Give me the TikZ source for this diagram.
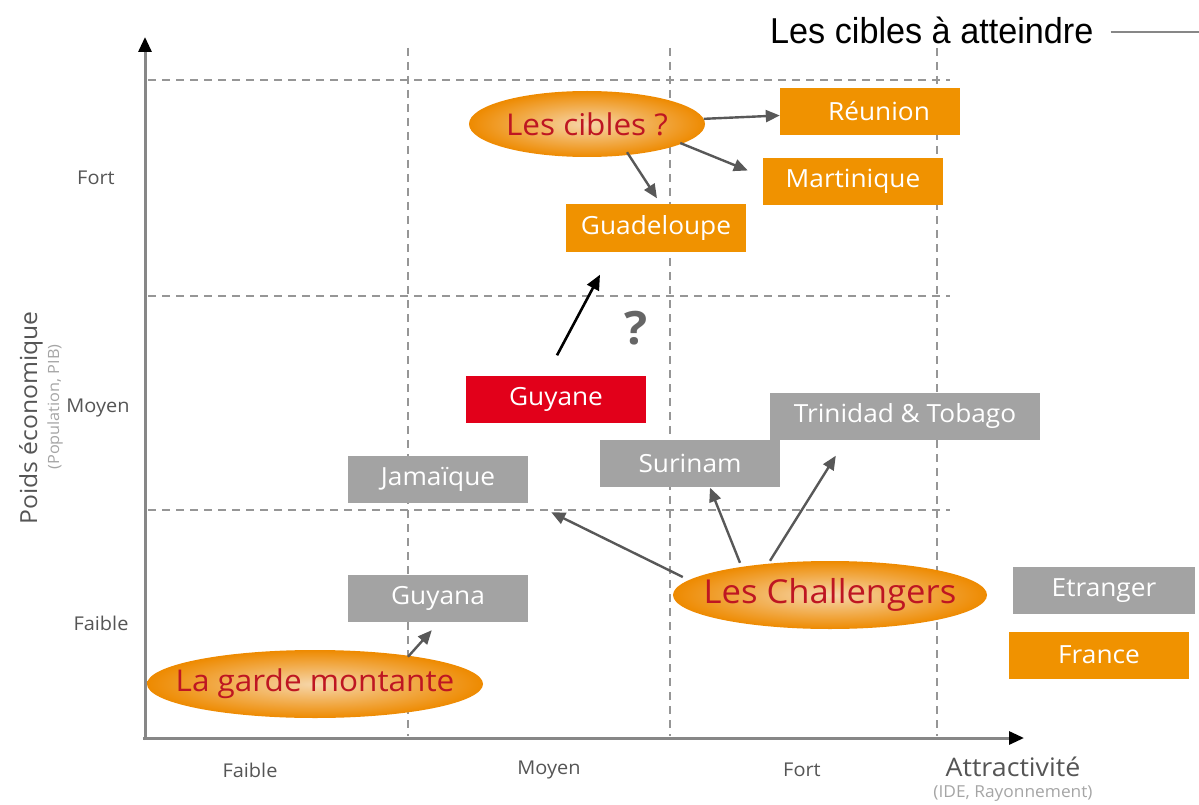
\documentclass[tikz,border=0pt]{standalone}
\usepackage{fontspec}
\setmainfont[FakeStretch=1.05]{Open Sans}
\newfontfamily\titlefont[FakeStretch=0.95]{Liberation Sans}
\usetikzlibrary{arrows.meta,calc,shapes.geometric}
\definecolor{boxorange}{RGB}{240,146,0}
\definecolor{boxgray}{RGB}{163,163,163}
\definecolor{boxred}{RGB}{226,0,26}
\definecolor{elltext}{RGB}{190,22,34}
\definecolor{ellout}{RGB}{238,138,0}
\definecolor{ellin}{RGB}{246,214,170}
\definecolor{arrgray}{RGB}{88,88,88}
\definecolor{labgray}{RGB}{85,85,85}
\definecolor{subgray}{RGB}{165,165,165}
\definecolor{axisgray}{RGB}{135,135,135}
\definecolor{gridgray}{RGB}{150,150,150}
\newcommand{\ztext}[1]{\makebox[0pt][c]{#1}}
\begin{document}
\begin{tikzpicture}[x=1pt,y=-1pt,
  box/.style={rectangle, minimum width=180pt, minimum height=47pt, inner sep=0pt, text=white, font=\fontsize{25}{25}\selectfont},
  obox/.style={box, fill=boxorange},
  gbox/.style={box, fill=boxgray},
  rbox/.style={box, fill=boxred},
  grp/.style={ellipse, inner sep=0pt, shading=radial, inner color=ellin, outer color=ellout, text=elltext, font=\fontsize{30}{30}\selectfont},
  grid line/.style={draw=gridgray, line width=1.4pt, dash pattern=on 8pt off 6pt},
  axisline/.style={draw=axisgray, line width=3pt, -{Triangle[length=15pt,width=13pt,fill=black,color=black]}},
  conn/.style={draw=arrgray, line width=2.4pt, -{Triangle[length=14pt,width=12pt]}},
  ylab/.style={text=labgray, font=\fontsize{19}{19}\selectfont},
]
\useasboundingbox (0,0) rectangle (1199,805);

% grid
\draw[grid line] (148,80) -- (950,80);
\draw[grid line] (148,296) -- (950,296);
\draw[grid line] (148,510) -- (950,510);
\draw[grid line] (408,48) -- (408,736);
\draw[grid line] (670,48) -- (670,736);
\draw[grid line] (937,48) -- (937,736);

% axes
\coordinate (O) at (145,738);
\coordinate (ytop) at (145,37);
\coordinate (xend) at (1024,738);
\draw[axisline] ($(O)+(0,2)$) -- (ytop);
\draw[axisline] ($(O)+(-2,0)$) -- (xend);

% axis labels
\node[ylab] (yfort) at (96,178) {Fort};
\node[ylab] (ymoyen) at (98,408) {Moyen};
\node[ylab] (yfaible) at (101,623) {Faible};
\node[ylab] (xfaible) at (250,770) {Faible};
\node[ylab] (xmoyen) at (549,770) {Moyen};
\node[ylab] (xfort) at (802,770) {Fort};
\node[text=labgray, font=\fontsize{23.5}{23.5}\selectfont, rotate=90] (ytitle) at (31,418) {Poids économique};
\node[text=subgray, font=\fontsize{15.5}{15.5}\selectfont, rotate=90] (ysub) at (55,407) {(Population, PIB)};
\node[text=labgray, font=\fontsize{25.5}{25.5}\selectfont] (xtitle) at (1013,767) {Attractivité};
\node[text=subgray, font=\fontsize{16.5}{16.5}\selectfont] (xsub) at (1013,794) {(IDE, Rayonnement)};

% title
\node[text=black, font=\titlefont\fontsize{36}{36}\selectfont, anchor=west, inner sep=0pt] (title) at (770,30) {Les cibles à atteindre};
\coordinate (tline) at (1199,32);
\draw[draw=axisgray, line width=1.5pt] ($(title.east)+(17,2)$) -- (tline);

% boxes
\node[obox] (reunion) at (870,111.5) {\hspace{18pt}Réunion};
\node[obox] (martinique) at (853,181.5) {Martinique};
\node[obox] (guadeloupe) at (656,228) {Guadeloupe};
\node[rbox] (guyane) at (556,399) {Guyane};
\node[gbox, minimum width=270pt] (trinidad) at (905,416) {Trinidad \& Tobago};
\node[gbox] (surinam) at (690,463) {Surinam};
\node[gbox] (jamaique) at (438,479.5) {Jamaïque};
\node[gbox] (guyana) at (438,598.5) {Guyana};
\node[gbox, minimum width=182pt] (etranger) at (1104,590.5) {Etranger};
\node[obox] (france) at (1099,655) {France};

% groups
\node[grp, minimum width=236pt, minimum height=66pt] (cibles) at (587,124) {\ztext{Les cibles ?}};
\node[grp, minimum width=336pt, minimum height=68pt] (garde) at (315,684) {\ztext{La garde montante}};
\node[grp, minimum width=314pt, minimum height=68pt, font=\fontsize{33}{33}\selectfont] (chal) at (830,595) {\ztext{Les Challengers}};

% question mark
\node[text=labgray!90, font=\bfseries\fontsize{46}{46}\selectfont] (qm) at (636,328) {?};

% connectors
\draw[conn] (cibles) -- (reunion);
\draw[conn] ($(cibles.east)+(-25,19)$) -- ($(martinique.west)+(-15,-11)$);
\draw[conn] ($(cibles.south)+(40,-5)$) -- ($(guadeloupe.north)+(1,-6)$);
\draw[draw=black, line width=2.6pt, -{Triangle[length=15pt,width=13pt]}] ($(guyane.north)+(1,-20)$) -- ($(guadeloupe.south)+(-56,23)$);
\draw[conn] ($(chal.west)+(10,-18)$) -- ($(jamaique.south east)+(23,9)$);
\draw[conn] ($(chal.north)+(-90,2)$) -- ($(surinam.south)+(20,1)$);
\draw[conn] ($(chal.north)+(-60,0)$) -- ($(trinidad.south west)+(66,16)$);
\draw[conn] ($(garde.north)+(93,7)$) -- ($(guyana.south west)+(84,8)$);
\end{tikzpicture}
\end{document}
